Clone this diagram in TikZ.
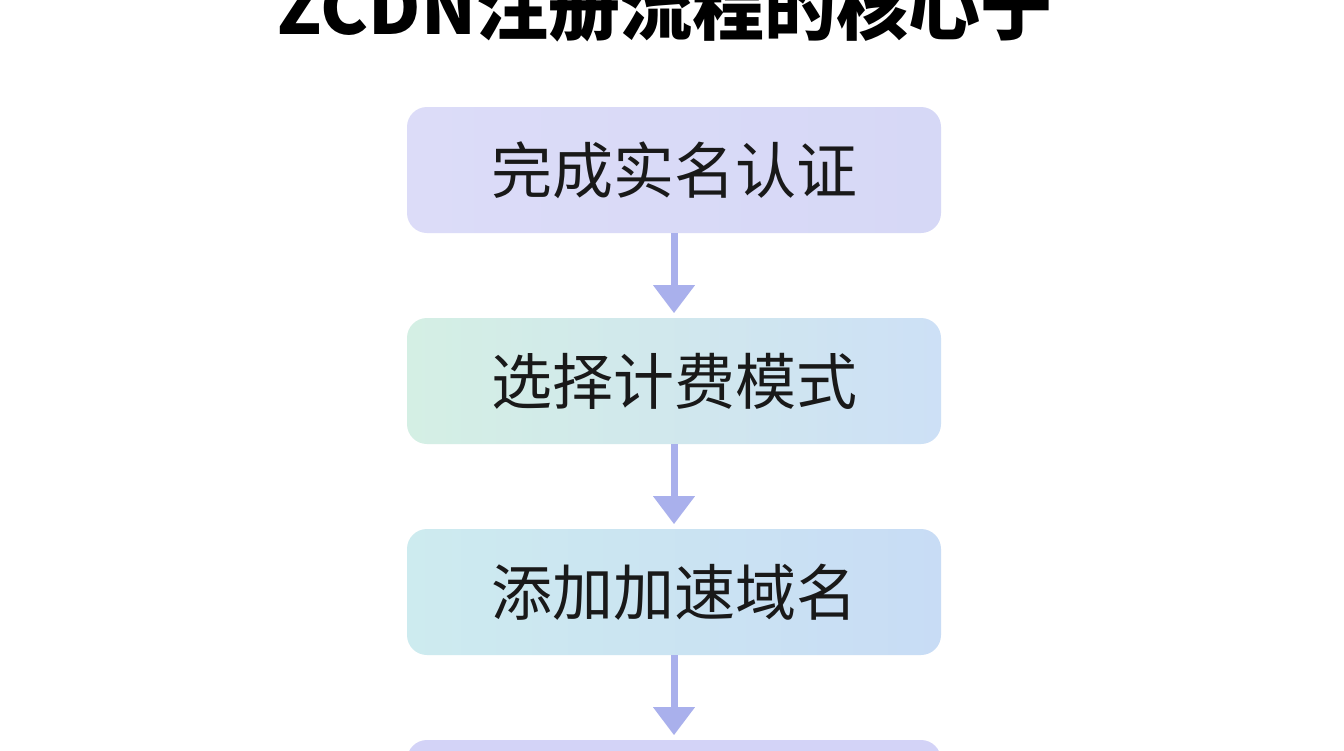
\documentclass[tikz,border=0pt]{standalone}
\usepackage{fontspec}
\setmainfont{Noto Sans CJK SC}
\usetikzlibrary{arrows.meta}
\definecolor{arr}{HTML}{A9B0EC}
\definecolor{a1}{HTML}{DCDCF8}\definecolor{a2}{HTML}{D6D8F6}
\definecolor{b1}{HTML}{D4EFE4}\definecolor{b2}{HTML}{CDE0F6}
\definecolor{c1}{HTML}{CDEBEF}\definecolor{c2}{HTML}{C8DCF5}
\definecolor{d1}{HTML}{D3D3F7}
\begin{document}
\begin{tikzpicture}[x=1pt,y=-1pt,
  box/.style={rounded corners=20pt,minimum width=534pt,minimum height=126pt,inner sep=0pt,font=\fontsize{61}{63}\selectfont,text=black!90},
  con/.style={arr,line width=7pt,-{Triangle[length=28pt,width=40pt]}}]
\clip (0,0) rectangle (1344,750);
\fill[white] (0,0) rectangle (1344,750);
\node[font=\fontsize{72}{74}\selectfont\bfseries,anchor=base] (t) at (665,34) {ZCDN注册流程的核心于};
\node[box,left color=a1,right color=a2] (a) at (674,170) {完成实名认证};
\node[box,left color=b1,right color=b2] (b) at (674,381) {选择计费模式};
\node[box,left color=c1,right color=c2] (c) at (674,592) {添加加速域名};
\node[box,fill=d1] (d) at (674,803) {};
\draw[con] (a.south) -- ++(0,80) coordinate (a2);
\draw[con] (b.south) -- ++(0,80) coordinate (b2);
\draw[con] (c.south) -- ++(0,80) coordinate (c2);
\end{tikzpicture}
\end{document}
